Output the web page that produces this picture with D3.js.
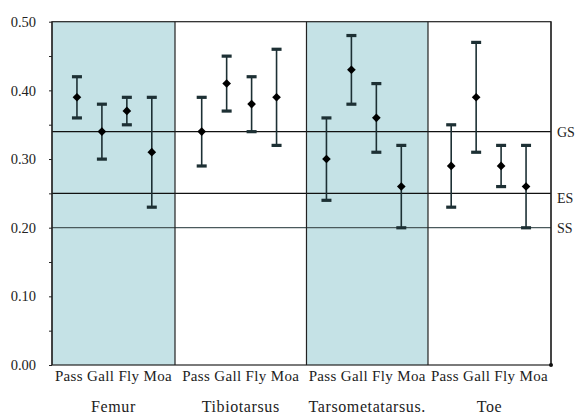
<!DOCTYPE html>
<html>
<head>
<meta charset="utf-8">
<script src="https://cdn.jsdelivr.net/npm/d3@7"></script>
<style>
  body { margin: 0; background: #fff; }
  text { font-family: "Liberation Serif", "Times New Roman", serif; fill: #222; }
</style>
</head>
<body>
<div id="chart"></div>
<script>
// categories inside each bone
const categories = ["Pass", "Gall", "Fly", "Moa"];
const bones = ["Femur", "Tibiotarsus", "Tarsometatarsus.", "Toe"];
const shaded = [true, false, true, false];

// means and error bar ends, one array per bone (Pass, Gall, Fly, Moa)
const femurMean = [0.39, 0.34, 0.37, 0.31];
const femurLow  = [0.36, 0.30, 0.35, 0.23];
const femurHigh = [0.42, 0.38, 0.39, 0.39];

const tibioMean = [0.34, 0.41, 0.38, 0.39];
const tibioLow  = [0.29, 0.37, 0.34, 0.32];
const tibioHigh = [0.39, 0.45, 0.42, 0.46];

const tarsoMean = [0.30, 0.43, 0.36, 0.26];
const tarsoLow  = [0.24, 0.38, 0.31, 0.20];
const tarsoHigh = [0.36, 0.48, 0.41, 0.32];

const toeMean = [0.29, 0.39, 0.29, 0.26];
const toeLow  = [0.23, 0.31, 0.26, 0.20];
const toeHigh = [0.35, 0.47, 0.32, 0.32];

// horizontal reference lines
const refNames  = ["GS", "ES", "SS"];
const refValues = [0.34, 0.25, 0.20];

// y ticks (major labelled, minor every 0.05)
const yTicks = [0, 0.05, 0.1, 0.15, 0.2, 0.25, 0.3, 0.35, 0.4, 0.45, 0.5];

// panel edges in slot units (slot = bone*5 + category)
const panelEdges = [-1, 3.93, 9.2, 14.07, 19];

const W = 578, H = 415;
const margin = {top: 21.7, right: 27, bottom: 50, left: 52};
const x = d3.scaleLinear().domain([-1, 19]).range([margin.left, W - margin.right]);
const y = d3.scaleLinear().domain([0, 0.5]).range([H - margin.bottom, margin.top]);

const svg = d3.select("#chart").append("svg")
  .attr("width", W).attr("height", H);

// build rows from the arrays
const means = [femurMean, tibioMean, tarsoMean, toeMean];
const lows = [femurLow, tibioLow, tarsoLow, toeLow];
const highs = [femurHigh, tibioHigh, tarsoHigh, toeHigh];
let rows = [];
bones.forEach((b, i) => {
  categories.forEach((c, j) => {
    rows.push({bone: b, cat: c, slot: i * 5 + j, mean: means[i][j], low: lows[i][j], high: highs[i][j]});
  });
});

// shaded panels
svg.selectAll(".panel")
  .data(bones)
  .enter().append("rect")
    .attr("x", (d, i) => x(panelEdges[i]))
    .attr("width", (d, i) => x(panelEdges[i + 1]) - x(panelEdges[i]))
    .attr("y", y(0.5))
    .attr("height", y(0) - y(0.5))
    .attr("fill", (d, i) => shaded[i] ? "#c5e2e6" : "#fff");

// reference lines
svg.selectAll(".ref")
  .data(refValues)
  .enter().append("line")
    .attr("x1", x(-1)).attr("x2", x(19))
    .attr("y1", d => y(d)).attr("y2", d => y(d))
    .attr("stroke", (d, i) => i == 2 ? "#4a5a5c" : "#111")
    .attr("stroke-width", 1.3);

svg.selectAll(".refLabel")
  .data(refNames)
  .enter().append("text")
    .attr("x", x(19) + 6)
    .attr("y", (d, i) => y(refValues[i]) + (i == 1 ? 10 : 5))
    .style("font-size", "14px")
    .text(d => d);

// panel separators and box
svg.selectAll(".sep")
  .data(panelEdges)
  .enter().append("line")
    .attr("x1", d => x(d)).attr("x2", d => x(d))
    .attr("y1", y(0.5)).attr("y2", y(0))
    .attr("stroke", "#222").attr("stroke-width", 1.2);

svg.append("rect")
  .attr("x", x(-1)).attr("y", y(0.5))
  .attr("width", x(19) - x(-1)).attr("height", y(0) - y(0.5))
  .attr("fill", "none").attr("stroke", "#222").attr("stroke-width", 1.2);

// little marker left at the bottom right corner
svg.append("circle")
  .attr("cx", x(19)).attr("cy", y(0)).attr("r", 2)
  .attr("fill", "#111");

// y axis
const yAxis = svg.append("g")
  .attr("transform", "translate(" + x(-1) + ",0)")
  .call(d3.axisLeft(y).tickValues(yTicks).tickSize(3).tickPadding(13)
    .tickFormat(d => Math.round(d * 100) % 10 == 0 ? d3.format(".2f")(d) : ""));
yAxis.select(".domain").remove();
yAxis.selectAll("line").attr("stroke", "#222");
yAxis.selectAll("text").style("font-size", "14.5px").style("font-family", "Liberation Serif, serif").attr("fill", "#333");

// error bars
svg.selectAll(".err")
  .data(rows)
  .enter().append("line")
    .attr("x1", d => x(d.slot)).attr("x2", d => x(d.slot))
    .attr("y1", d => y(d.low)).attr("y2", d => y(d.high))
    .attr("stroke", "#1d3034").attr("stroke-width", 1.6);

const caps = rows.flatMap(d => [{slot: d.slot, v: d.low}, {slot: d.slot, v: d.high}]);
svg.selectAll(".cap")
  .data(caps)
  .enter().append("rect")
    .attr("x", d => x(d.slot) - 5)
    .attr("y", d => y(d.v) - 1.5)
    .attr("width", 10).attr("height", 3.2)
    .attr("fill", "#1d3034");

// diamonds for means
svg.selectAll(".mean")
  .data(rows)
  .enter().append("path")
    .attr("d", d3.symbol(d3.symbolDiamond2, 48))
    .attr("transform", d => "translate(" + x(d.slot) + "," + y(d.mean) + ")")
    .attr("fill", "#000");

// category labels, one string per panel centred in the panel
svg.selectAll(".catLabel")
  .data(bones)
  .enter().append("text")
    .attr("x", (d, i) => (x(panelEdges[i]) + x(panelEdges[i + 1])) / 2)
    .attr("y", 381)
    .attr("text-anchor", "middle")
    .style("font-size", "15px")
    .style("letter-spacing", "0.35px")
    .text(categories.join(" "));

// bone names
svg.selectAll(".boneLabel")
  .data(bones)
  .enter().append("text")
    .attr("x", (d, i) => (x(panelEdges[i]) + x(panelEdges[i + 1])) / 2)
    .attr("y", 412)
    .attr("text-anchor", "middle")
    .style("font-size", "16px")
    .style("letter-spacing", "0.6px")
    .text(d => d);
</script>
</body>
</html>
